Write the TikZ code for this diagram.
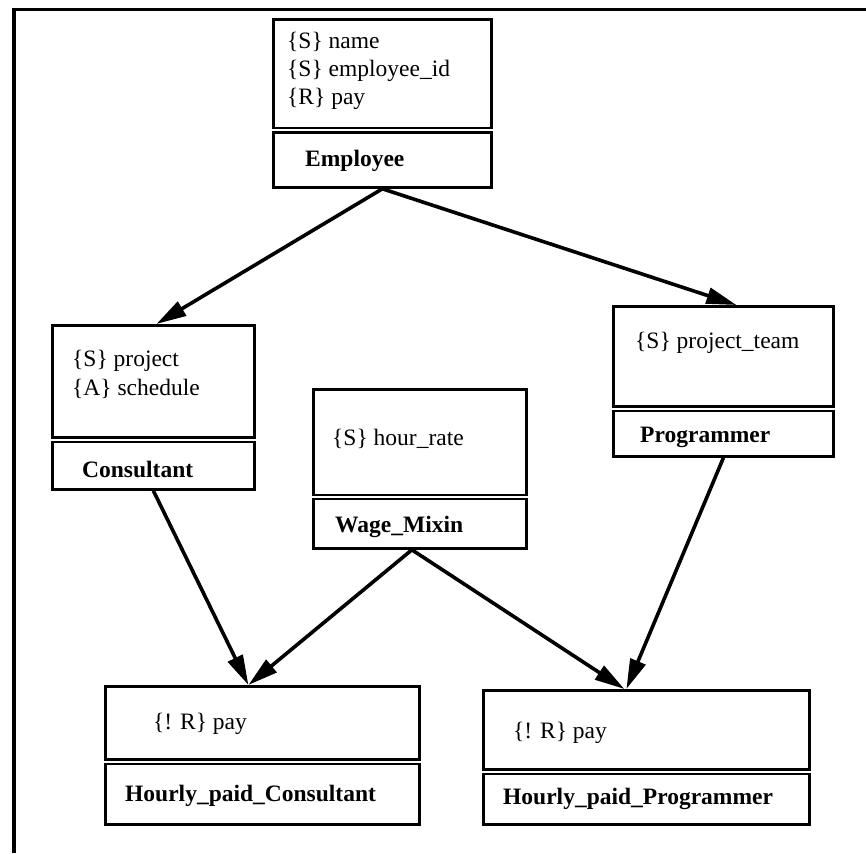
\documentclass[tikz,border=0pt]{standalone}
\usepackage{fontspec}
\setmainfont{Liberation Serif}
\usetikzlibrary{arrows.meta,calc}
\begin{document}
\begin{tikzpicture}[x=1pt,y=-1pt,
  classbox/.style={draw, line width=2.8pt, rectangle, inner sep=0pt, anchor=north west},
  divider/.style={line width=2.4pt, double, double distance=2pt},
  attr/.style={anchor=base west, inner sep=0pt, font=\fontsize{23.5}{28}\selectfont},
  cname/.style={anchor=base west, inner sep=0pt, font=\fontsize{23.5}{28}\selectfont\bfseries},
  inherit/.style={line width=3.6pt, -{Triangle[length=30pt,width=16pt]}},
]
\useasboundingbox (0,0) rectangle (866,853);

% frame (left and top edges)
\coordinate (fb) at (14,853);
\coordinate (ftl) at (14,9.5);
\coordinate (ftr) at (866,9.5);
\draw[line width=3.5pt] (fb) -- (ftl) -- (ftr);

% Employee
\node[classbox, minimum width=218pt, minimum height=168pt] (emp) at (272,18) {};
\draw[divider] (emp.west |- 0,130.5) -- (emp.east |- 0,130.5);
\node[attr] (emp1) at (287,49) {\{S\} name};
\node[attr] (emp2) at (287,77) {\{S\} employee\_id};
\node[attr] (emp3) at (287,105) {\{R\} pay};
\node[cname] (empn) at (305,166) {Employee};

% Consultant
\node[classbox, minimum width=202pt, minimum height=164pt] (con) at (51,324) {};
\draw[divider] (con.west |- 0,439.5) -- (con.east |- 0,439.5);
\node[attr] (con1) at (72,366) {\{S\} project};
\node[attr] (con2) at (72,395) {\{A\} schedule};
\node[cname] (conn) at (82,477) {Consultant};

% Wage_Mixin
\node[classbox, minimum width=213pt, minimum height=159pt] (wage) at (312,388) {};
\draw[divider] (wage.west |- 0,497) -- (wage.east |- 0,497);
\node[attr] (wage1) at (332,445) {\{S\} hour\_rate};
\node[cname] (wagen) at (335,532) {Wage\_Mixin};

% Programmer
\node[classbox, minimum width=220pt, minimum height=150pt] (prog) at (612,305) {};
\draw[divider] (prog.west |- 0,408.5) -- (prog.east |- 0,408.5);
\node[attr] (prog1) at (635,348) {\{S\} project\_team};
\node[cname] (progn) at (640,442) {Programmer};

% Hourly_paid_Consultant
\node[classbox, minimum width=314pt, minimum height=138pt] (hpc) at (104,685) {};
\draw[divider] (hpc.west |- 0,761.5) -- (hpc.east |- 0,761.5);
\node[attr] (hpc1) at (153,729) {\{! R\} pay};
\node[cname] (hpcn) at (125,801) {Hourly\_paid\_Consultant};

% Hourly_paid_Programmer
\node[classbox, minimum width=326pt, minimum height=134pt] (hpp) at (482,689) {};
\draw[divider] (hpp.west |- 0,771.5) -- (hpp.east |- 0,771.5);
\node[attr] (hpp1) at (513,738) {\{! R\} pay};
\node[cname] (hppn) at (503,804) {Hourly\_paid\_Programmer};

% inheritance arrows
\draw[inherit] (emp.south) -- ([xshift=3pt]con.north);
\draw[inherit] (emp.south) -- ([xshift=13pt]prog.north);
\draw[inherit] (con.south) -- ([xshift=-14pt]hpc.north);
\draw[inherit] ([xshift=-8pt]wage.south) -- ([xshift=-14pt]hpc.north);
\draw[inherit] ([xshift=-8pt]wage.south) -- ([xshift=-22pt]hpp.north);
\draw[inherit] (prog.south) -- ([xshift=-20pt]hpp.north);
\end{tikzpicture}
\end{document}
